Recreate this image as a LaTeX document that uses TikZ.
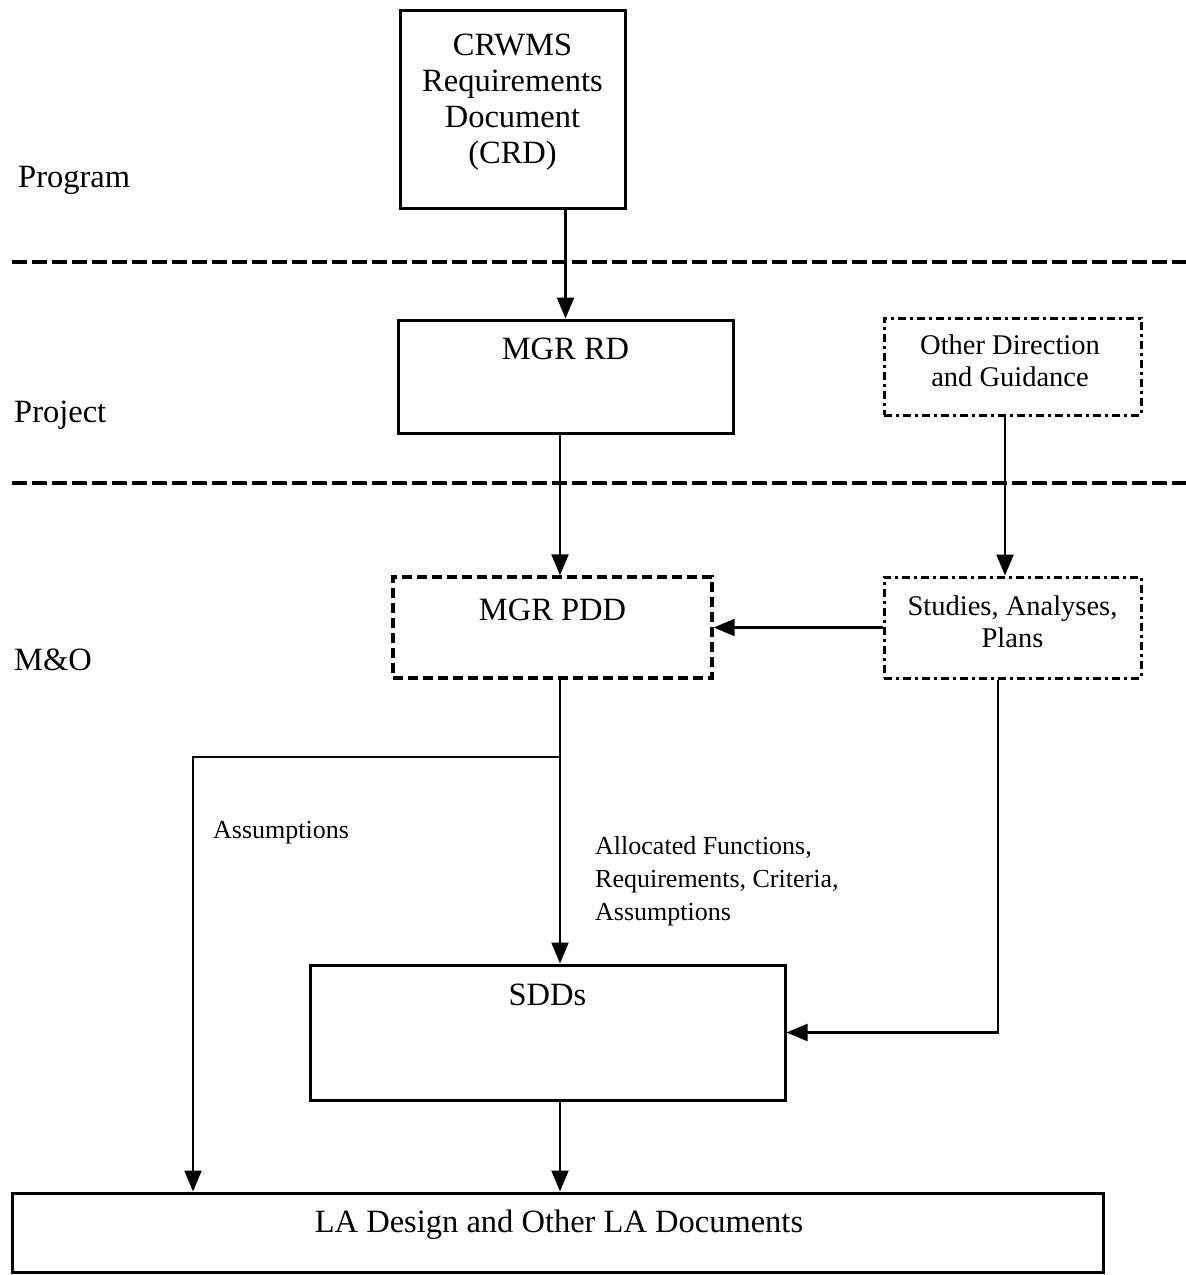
\documentclass[tikz,border=0pt]{standalone}
\usepackage{fontspec}
\setmainfont{Liberation Serif}
\usetikzlibrary{arrows.meta}
\begin{document}
\begin{tikzpicture}[x=1pt,y=-1pt,
  solidbox/.style={draw, line width=3pt, minimum width=#1, inner sep=0pt},
  dashbox/.style={draw, line width=3.4pt, dash pattern=on 10pt off 5pt, inner sep=0pt},
  dotbox/.style={draw, line width=3pt, dash pattern=on 8pt off 4pt on 3pt off 4pt, inner sep=0pt},
  sep/.style={line width=3.5pt, dash pattern=on 15pt off 5pt},
  arr/.style={line width=2.2pt, -{Triangle[length=21pt,width=17pt]}},
  bigtxt/.style={font=\fontsize{32.5}{36}\selectfont, align=center, inner sep=0pt},
  midtxt/.style={font=\fontsize{28.5}{32}\selectfont, align=center, inner sep=0pt},
  lbltxt/.style={font=\fontsize{26}{33}\selectfont, align=left, inner sep=0pt, anchor=west},
  sidetxt/.style={font=\fontsize{32.5}{36}\selectfont, inner sep=0pt, anchor=west}
]
\useasboundingbox (0,0) rectangle (1186,1275);
\fill[white] (0,0) rectangle (1186,1275);

% column coordinates
\coordinate (c560) at (560,0);
\coordinate (c1005) at (1005,0);
\coordinate (c998) at (998,0);
\coordinate (c193) at (193,0);

% separators
\coordinate (s1a) at (12,262);
\coordinate (s1b) at (1186,262);
\coordinate (s2a) at (12,483);
\coordinate (s2b) at (1186,483);
\draw[sep] (s1a) -- (s1b);
\draw[sep] (s2a) -- (s2b);

% side labels
\node[sidetxt] (prog) at (18,180) {Program};
\node[sidetxt] (proj) at (14,415) {Project};
\node[sidetxt] (mo) at (14,660) {M\&O};

% boxes
\node[solidbox=225pt, minimum height=198pt] (crd) at (512.5,109) {};
\node[bigtxt] (crdtxt) at (512.5,102) {CRWMS\\Requirements\\Document\\(CRD)};

\node[solidbox=335pt, minimum height=113pt] (rd) at (565.5,376.5) {};
\node[bigtxt] (rdtxt) at (565.5,349) {MGR RD};

\node[dotbox, minimum width=257pt, minimum height=97pt] (other) at (1012.5,366.5) {};
\node[midtxt] (othertxt) at (1010,361) {Other Direction\\and Guidance};

\node[dashbox, minimum width=319pt, minimum height=101pt] (pdd) at (552.5,627.5) {};
\node[bigtxt] (pddtxt) at (552.5,610) {MGR PDD};

\node[dotbox, minimum width=257pt, minimum height=101pt] (studies) at (1012.5,627.5) {};
\node[midtxt] (studtxt) at (1012.5,622) {Studies, Analyses,\\Plans};

\node[solidbox=475pt, minimum height=135pt] (sdd) at (547.5,1032.5) {};
\node[bigtxt] (sddtxt) at (547.5,995) {SDDs};

\node[solidbox=1091pt, minimum height=79pt] (la) at (557.5,1232.5) {};
\node[bigtxt] (latxt) at (559,1225) {LA Design and Other LA Documents};

% edge labels
\node[lbltxt] (assum) at (213,833) {Assumptions};
\node[lbltxt] (alloc) at (595,881) {Allocated Functions,\\Requirements, Criteria,\\Assumptions};

% connectors
\draw[arr] (crd.south -| rd.north) -- (rd.north);
\draw[arr] (rd.south -| c560) -- (pdd.north -| c560);
\draw[arr] (other.south -| c1005) -- (studies.north -| c1005);
\draw[arr] (studies.west) -- (pdd.east);
\draw[arr] (pdd.south -| c560) -- (sdd.north -| c560);
\coordinate (br) at (560,757);
\draw[arr] (br) -| (la.north -| c193);
\draw[arr] (studies.south -| c998) |- (sdd.east);
\draw[arr] (sdd.south -| c560) -- (la.north -| c560);
\end{tikzpicture}
\end{document}
